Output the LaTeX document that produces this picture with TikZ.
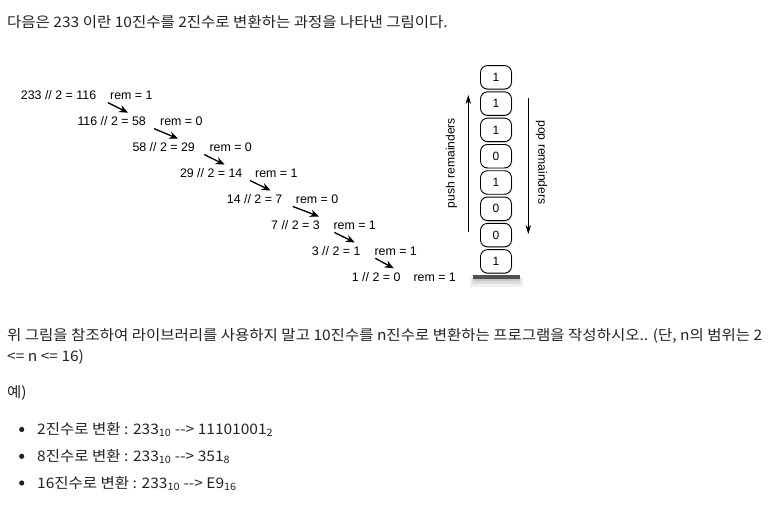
\documentclass[tikz,border=0pt]{standalone}
\usepackage{fontspec}
\setmainfont{Liberation Sans}
\newfontfamily\kr[FakeStretch=1.07]{Noto Sans CJK KR}
\usetikzlibrary{arrows.meta,calc,shadows}
\definecolor{txt}{HTML}{222222}
\definecolor{barc}{HTML}{505050}
\begin{document}
\begin{tikzpicture}[x=1pt,y=-1pt,
  expr/.style={anchor=base west,inner sep=0pt,text height=9pt,text depth=3pt,font=\fontsize{12.4}{14}\selectfont},
  ktext/.style={anchor=base west,inner sep=0pt,font=\kr\fontsize{14.5}{17}\selectfont,text=txt},
  stackbox/.style={draw,line width=0.9pt,rounded corners=7pt,minimum width=31pt,minimum height=23.5pt,inner sep=0pt,fill=white,font=\fontsize{12}{14}\selectfont,drop shadow={opacity=0.2,shadow xshift=1pt,shadow yshift=-1.2pt}},
  darr/.style={line width=1.3pt,-{Stealth[length=9pt,width=7.5pt]}},
  sarr/.style={line width=0.8pt,-{Stealth[length=9pt,width=5.5pt]}},
  vlabel/.style={inner sep=0pt,font=\fontsize{12.1}{14}\selectfont},
  bullet/.style={circle,fill=txt,inner sep=0pt,minimum size=5.2pt}
]
\useasboundingbox (0,0) rectangle (772,507);

% title
\node[ktext] (title) at (7,27) {다음은 233 이란 10진수를 2진수로 변환하는 과정을 나타낸 그림이다.};

% division rows
\node[expr] (e1) at (20.7,99.5) {233 // 2 = 116};
\node[expr] (r1) at (110,99.5) {rem = 1};
\node[expr] (e2) at (77.3,125.4) {116 // 2 = 58};
\node[expr] (r2) at (160,125.4) {rem = 0};
\node[expr] (e3) at (132.3,151.4) {58 // 2 = 29};
\node[expr] (r3) at (209.3,151.4) {rem = 0};
\node[expr] (e4) at (179.8,177.3) {29 // 2 = 14};
\node[expr] (r4) at (255,177.3) {rem = 1};
\node[expr] (e5) at (226.7,203.2) {14 // 2 = 7};
\node[expr] (r5) at (295.7,203.2) {rem = 0};
\node[expr] (e6) at (271,229.2) {7 // 2 = 3};
\node[expr] (r6) at (333.3,229.2) {rem = 1};
\node[expr] (e7) at (311.7,255.1) {3 // 2 = 1};
\node[expr] (r7) at (374.3,255.1) {rem = 1};
\node[expr] (e8) at (351.7,281) {1 // 2 = 0};
\node[expr] (r8) at (413.3,281) {rem = 1};

\draw[darr] ($(r1.south west)+(-2,0)$) -- ($(e2.north east)+(-18,-3.5)$);
\draw[darr] ($(r2.south west)+(-6,0)$) -- ($(e3.north east)+(-17,-3.5)$);
\draw[darr] ($(r3.south west)+(-5,0)$) -- ($(e4.north east)+(-18,-3.5)$);
\draw[darr] ($(r4.south west)+(-5,0)$) -- ($(e5.north east)+(-12,-3.5)$);
\draw[darr] ($(r5.south west)+(-3,0)$) -- ($(e6.north east)+(-1,-3.5)$);
\draw[darr] ($(r6.south west)+(1,0)$) -- ($(e7.north east)+(-6,-3.5)$);
\draw[darr] ($(r7.south west)+(1,0)$) -- ($(e8.north east)+(-7,-3.5)$);

% stack base with shadow
\fill[black,opacity=0.06] (470,278) rectangle (523,287);
\fill[black,opacity=0.08] (472,278) rectangle (521,284);
\fill[black,opacity=0.10] (474,278) rectangle (519,281);
\node[fill=barc,minimum width=47.3pt,minimum height=3.5pt,inner sep=0pt] (base) at (496.3,276.8) {};

% stack boxes
\node[stackbox] (s1) at (496,77.3) {1};
\node[stackbox] (s2) at (496,103.6) {1};
\node[stackbox] (s3) at (496,129.9) {1};
\node[stackbox] (s4) at (496,156.2) {0};
\node[stackbox] (s5) at (496,182.5) {1};
\node[stackbox] (s6) at (496,208.8) {0};
\node[stackbox] (s7) at (496,235.1) {0};
\node[stackbox] (s8) at (496,261.4) {1};

% push / pop arrows
\coordinate (pushS) at (468.3,232);
\coordinate (pushE) at (468.3,95);
\coordinate (popS) at (528.3,98.3);
\coordinate (popE) at (528.3,234);
\draw[sarr] (pushS) -- (pushE);
\draw[sarr] (popS) -- (popE);
\node[vlabel,rotate=90] (pushl) at (451.5,163) {push remainders};
\node[vlabel,rotate=-90] (popl) at (541.5,162.5) {pop remainders};

% question text
\node[ktext] (q1) at (7,340.5) {위 그림을 참조하여 라이브러리를 사용하지 말고 10진수를 n진수로 변환하는 프로그램을 작성하시오.. (단, n의 범위는 2};
\node[ktext] (q2) at (7,361.5) {<= n <= 16)};
\node[ktext] (ex) at (7,397) {예)};

\node[bullet] (b1) at (21.7,429.5) {};
\node[bullet] (b2) at (21.7,456.3) {};
\node[bullet] (b3) at (21.7,483) {};
\node[ktext] (l1) at (37,434.5) {2진수로 변환 : 233\textsubscript{10} -{}-{}> 11101001\textsubscript{2}};
\node[ktext] (l2) at (37,461.3) {8진수로 변환 : 233\textsubscript{10} -{}-{}> 351\textsubscript{8}};
\node[ktext] (l3) at (37,488) {16진수로 변환 : 233\textsubscript{10} -{}-{}> E9\textsubscript{16}};
\end{tikzpicture}
\end{document}
